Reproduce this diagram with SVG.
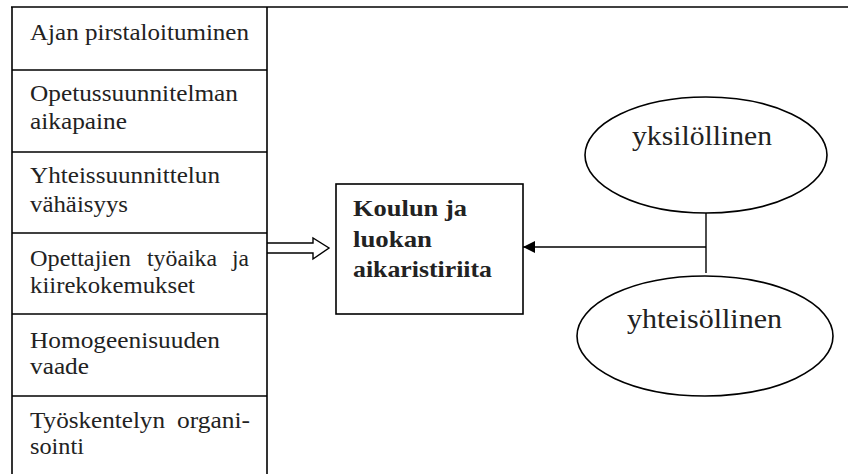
<svg xmlns="http://www.w3.org/2000/svg" width="848" height="474" viewBox="0 0 848 474">
  <style>
    .frame { stroke: #000; stroke-width: 1.6; fill: none; }
    .box { stroke: #000; stroke-width: 1.6; fill: #fff; }
    .item { font-family: "Liberation Serif", serif; font-size: 23px; fill: #222; }
    .main { font-family: "Liberation Serif", serif; font-size: 24px; font-weight: bold; fill: #222; }
    .oval { font-family: "Liberation Serif", serif; font-size: 27px; fill: #222; }
    .wire { stroke: #000; stroke-width: 1.4; fill: none; }
  </style>
  <defs>
    <marker id="head" viewBox="0 0 12 12" refX="12" refY="6" markerWidth="12" markerHeight="12" markerUnits="userSpaceOnUse" orient="auto">
      <path d="M0,0 L12,6 L0,12 Z" fill="#000"/>
    </marker>
  </defs>
  <rect width="848" height="474" fill="#fff"/>

  <!-- outer frame: top rule and the factor column -->
  <g id="frame">
    <line class="frame" x1="11" y1="7" x2="848" y2="7"/>
    <line class="frame" x1="12" y1="7" x2="12" y2="474"/>
    <line class="frame" x1="267" y1="7" x2="267" y2="474"/>
    <line class="frame" x1="12" y1="70" x2="267" y2="70"/>
    <line class="frame" x1="12" y1="152" x2="267" y2="152"/>
    <line class="frame" x1="12" y1="233" x2="267" y2="233"/>
    <line class="frame" x1="12" y1="314" x2="267" y2="314"/>
    <line class="frame" x1="12" y1="396" x2="267" y2="396"/>
  </g>

  <g id="factor-1">
    <text class="item" x="30" y="40" textLength="219" lengthAdjust="spacingAndGlyphs">Ajan pirstaloituminen</text>
  </g>
  <g id="factor-2">
    <text class="item" x="30" y="101" textLength="208" lengthAdjust="spacingAndGlyphs">Opetussuunnitelman</text>
    <text class="item" x="30" y="129" textLength="97" lengthAdjust="spacingAndGlyphs">aikapaine</text>
  </g>
  <g id="factor-3">
    <text class="item" x="30" y="183" textLength="190" lengthAdjust="spacingAndGlyphs">Yhteissuunnittelun</text>
    <text class="item" x="30" y="212" textLength="98" lengthAdjust="spacingAndGlyphs">vähäisyys</text>
  </g>
  <g id="factor-4">
    <text class="item" x="30" y="266" textLength="101" lengthAdjust="spacingAndGlyphs">Opettajien</text>
    <text class="item" x="147" y="266" textLength="70" lengthAdjust="spacingAndGlyphs">työaika</text>
    <text class="item" x="232" y="266" textLength="17" lengthAdjust="spacingAndGlyphs">ja</text>
    <text class="item" x="30" y="293" textLength="165" lengthAdjust="spacingAndGlyphs">kiirekokemukset</text>
  </g>
  <g id="factor-5">
    <text class="item" x="30" y="348" textLength="190" lengthAdjust="spacingAndGlyphs">Homogeenisuuden</text>
    <text class="item" x="30" y="374" textLength="59" lengthAdjust="spacingAndGlyphs">vaade</text>
  </g>
  <g id="factor-6">
    <text class="item" x="30" y="428" textLength="135" lengthAdjust="spacingAndGlyphs">Työskentelyn</text>
    <text class="item" x="177" y="428" textLength="73" lengthAdjust="spacingAndGlyphs">organi-</text>
    <text class="item" x="30" y="454" textLength="54" lengthAdjust="spacingAndGlyphs">sointi</text>
  </g>

  <g id="conflicts">
    <rect class="box" x="336" y="184" width="187" height="130"/>
    <text class="main" x="353" y="216" textLength="114" lengthAdjust="spacingAndGlyphs">Koulun ja</text>
    <text class="main" x="353" y="247" textLength="79" lengthAdjust="spacingAndGlyphs">luokan</text>
    <text class="main" x="353" y="277" textLength="139" lengthAdjust="spacingAndGlyphs">aikaristiriita</text>
  </g>

  <g id="individual">
    <ellipse class="box" cx="706" cy="155" rx="121" ry="58"/>
    <text class="oval" x="632" y="145" textLength="140" lengthAdjust="spacingAndGlyphs">yksilöllinen</text>
  </g>
  <g id="communal">
    <ellipse class="box" cx="705" cy="336" rx="128" ry="60"/>
    <text class="oval" x="627" y="328" textLength="155" lengthAdjust="spacingAndGlyphs">yhteisöllinen</text>
  </g>

  <g id="connectors">
    <!-- hollow block arrow from the factor column -->
    <path class="wire" d="M267,243 L313,243 L313,238 L329,248 L313,259 L313,253 L267,253" fill="#fff"/>
    <!-- junction between the two ovals, feeding the box -->
    <line class="wire" x1="706" y1="213" x2="706" y2="273"/>
    <line class="wire" x1="706" y1="247" x2="523" y2="247" marker-end="url(#head)"/>
  </g>
</svg>
